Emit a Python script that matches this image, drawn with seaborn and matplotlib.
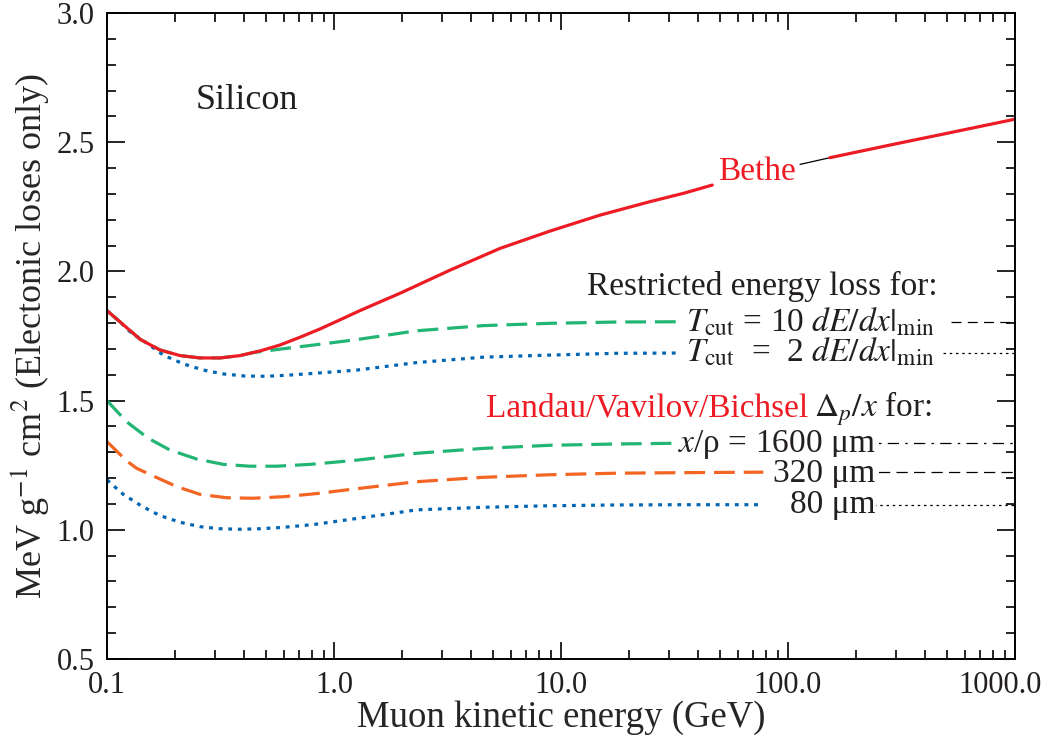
import numpy as np
import pandas as pd
import matplotlib
matplotlib.use("Agg")
import matplotlib.pyplot as plt
import matplotlib.transforms as mtransforms
import seaborn as sns
from matplotlib.ticker import FixedLocator, MultipleLocator, LogLocator, NullFormatter

# --- podaci ocitani sa slike (E u GeV, dE/dx u MeV g^-1 cm^2) ---
bethe_E = [0.1, 0.114, 0.14, 0.171, 0.21, 0.257, 0.315, 0.385, 0.472, 0.578, 0.708, 0.867,
           1.06, 1.3, 1.95, 3.25, 5.39, 8.95, 14.9, 24.7, 34.6, 46.4, 113.0, 153.0, 300.0,
           500.0, 1000.0]
bethe_y = [1.848, 1.805, 1.737, 1.696, 1.674, 1.665, 1.665, 1.674, 1.692, 1.715, 1.745, 1.777,
           1.812, 1.848, 1.915, 2.005, 2.089, 2.156, 2.218, 2.270, 2.302, 2.334, 2.414, 2.440,
           2.494, 2.534, 2.589]

cut10_E = [0.1, 0.114, 0.14, 0.171, 0.21, 0.257, 0.315, 0.385, 0.441, 0.578, 0.867, 1.26,
           2.31, 4.54, 8.95, 17.6, 33.4]
cut10_y = [1.848, 1.805, 1.737, 1.696, 1.674, 1.665, 1.665, 1.674, 1.686, 1.699, 1.718, 1.736,
           1.770, 1.790, 1.799, 1.804, 1.805]

cut2_E = [0.1, 0.114, 0.126, 0.15, 0.177, 0.217, 0.266, 0.326, 0.405, 0.505, 0.619, 0.837,
          1.26, 2.31, 4.54, 8.95, 17.6, 32.6]
cut2_y = [1.848, 1.805, 1.767, 1.722, 1.676, 1.642, 1.618, 1.603, 1.595, 1.594, 1.598, 1.606,
          1.618, 1.647, 1.668, 1.676, 1.683, 1.684]

lv1600_E = [0.1, 0.122, 0.152, 0.189, 0.248, 0.326, 0.426, 0.559, 0.782, 1.218, 2.31, 4.54,
            8.95, 17.6, 33.4]
lv1600_y = [1.500, 1.418, 1.354, 1.309, 1.274, 1.253, 1.246, 1.246, 1.253, 1.268, 1.296, 1.315,
            1.327, 1.332, 1.335]

lv320_E = [0.1, 0.122, 0.135, 0.16, 0.203, 0.257, 0.337, 0.441, 0.599, 0.837, 1.26, 2.31,
           4.54, 8.95, 17.6, 34.6, 77.9]
lv320_y = [1.341, 1.267, 1.238, 1.208, 1.167, 1.137, 1.124, 1.122, 1.128, 1.140, 1.159, 1.186,
           1.203, 1.213, 1.219, 1.221, 1.223]

lv80_E = [0.1, 0.118, 0.142, 0.171, 0.21, 0.257, 0.315, 0.385, 0.472, 0.588, 0.81, 1.218,
          2.31, 4.54, 8.95, 17.6, 34.6, 77.9]
lv80_y = [1.193, 1.137, 1.092, 1.055, 1.029, 1.012, 1.004, 1.002, 1.004, 1.009, 1.020, 1.042,
          1.077, 1.087, 1.093, 1.096, 1.097, 1.097]

x_ticks = [0.1, 1.0, 10.0, 100.0, 1000.0]
x_ticklabels = ["0.1", "1.0", "10.0", "100.0", "1000.0"]
y_ticks = [0.5, 1.0, 1.5, 2.0, 2.5, 3.0]
y_ticklabels = ["0.5", "1.0", "1.5", "2.0", "2.5", "3.0"]

red = "#ed1c24"
green = "#22b573"
orange = "#f26522"
blue = "#0066b3"

sns.set_theme(style="ticks")
plt.rcParams["font.family"] = ["Liberation Serif", "DejaVu Serif"]
plt.rcParams["mathtext.fontset"] = "stix"
plt.rcParams["axes.linewidth"] = 1.4
plt.rcParams["text.color"] = "#231f20"

fig = plt.figure(figsize=(10.52, 7.42), dpi=100)
ax = fig.add_axes([0.1017, 0.1119, 0.8631, 0.8706])

bethe = pd.DataFrame({"E": bethe_E, "y": bethe_y})
lw = 2.3
dash = (0, (6.5, 2.8))
dots = (0, (1.2, 1.8))

# Landau/Vavilov/Bichsel
sns.lineplot(x=lv80_E, y=lv80_y, color=blue, lw=lw, linestyle=dots, ax=ax, sort=False)
sns.lineplot(x=lv320_E, y=lv320_y, color=orange, lw=lw, linestyle=dash, ax=ax, sort=False)
sns.lineplot(x=lv1600_E, y=lv1600_y, color=green, lw=lw, linestyle=dash, ax=ax, sort=False)
# restricted
sns.lineplot(x=cut2_E, y=cut2_y, color=blue, lw=lw, linestyle=dots, ax=ax, sort=False)
sns.lineplot(x=cut10_E, y=cut10_y, color=green, lw=lw, linestyle=dash, ax=ax, sort=False)
# Bethe (prekinuta oko oznake)
seg1 = bethe[bethe.E <= 47]
seg2 = bethe[(bethe.E >= 113) & (bethe.E <= 153)]
seg3 = bethe[bethe.E >= 153]
sns.lineplot(data=seg1, x="E", y="y", color=red, lw=lw, ax=ax, sort=False)
sns.lineplot(data=seg2, x="E", y="y", color="black", lw=0.9, ax=ax, sort=False)
sns.lineplot(data=seg3, x="E", y="y", color=red, lw=lw, ax=ax, sort=False)

# crne linije iza oznaka
ax.plot([520, 1000], [cut10_y[-1]] * 2, color="black", lw=0.9, linestyle=(0, (8, 5)))
ax.plot([480, 1000], [cut2_y[-1]] * 2, color="black", lw=0.9, linestyle=(0, (2, 3)))
ax.plot([210, 1000], [lv1600_y[-1]] * 2, color="black", lw=0.9, linestyle=(0, (9, 5, 2, 5)))
ax.plot([210, 1000], [lv320_y[-1]] * 2, color="black", lw=0.9, linestyle=(0, (9, 5)))
ax.plot([210, 1000], [lv80_y[-1]] * 2, color="black", lw=0.9, linestyle=(0, (2, 3)))

ax.set_xscale("log")
ax.set_xlim(0.1, 1000)
ax.set_ylim(0.5, 3.0)
ax.xaxis.set_major_locator(FixedLocator(x_ticks))
ax.set_xticklabels(x_ticklabels)
ax.xaxis.set_minor_locator(LogLocator(base=10, subs=np.arange(2, 10)))
ax.xaxis.set_minor_formatter(NullFormatter())
ax.yaxis.set_major_locator(FixedLocator(y_ticks))
ax.set_yticklabels(y_ticklabels)
ax.yaxis.set_minor_locator(MultipleLocator(0.1))
ax.tick_params(which="both", direction="in", top=True, right=True, color="black",
               labelsize=22, width=1.2, labelcolor="#231f20")
ax.tick_params(axis="x", which="major", length=12, pad=9)
ax.tick_params(axis="y", which="major", length=13, pad=9)
ax.tick_params(which="minor", length=6.5)
for s in ax.spines.values():
    s.set_color("black")

# zadnja oznaka na x osi malo ulevo, kao na originalu
shift = mtransforms.ScaledTranslation(-15 / 100, 0, fig.dpi_scale_trans)
for lab in ax.get_xticklabels():
    if lab.get_text() == "1000.0":
        lab.set_transform(lab.get_transform() + shift)

ax.set_xlabel("Muon kinetic energy (GeV)", fontsize=26.5, labelpad=0)
ax.set_ylabel("MeV g$^{-1}$ cm$^2$ (Electonic loses only)", fontsize=26, labelpad=4)

fs = 24
wb = dict(fc="white", ec="none", pad=1)
ax.text(0.098, 0.865, "Silicon", transform=ax.transAxes, fontsize=26, va="center", ha="left")
ax.text(0.716, 0.754, "Bethe", transform=ax.transAxes, fontsize=fs, va="center", ha="center", color=red)
ax.text(0.915, 0.5635, "Restricted energy loss for:", transform=ax.transAxes, fontsize=fs,
        ha="right", va="baseline")
ax.text(0.912, 0.5067, r"$T_{\rm cut}$ = 10 $dE/dx|_{\rm min}$", transform=ax.transAxes,
        fontsize=fs, ha="right", va="baseline", bbox=wb)
ax.text(0.912, 0.460, r"$T_{\rm cut}$  =  2 $dE/dx|_{\rm min}$", transform=ax.transAxes,
        fontsize=fs, ha="right", va="baseline", bbox=wb)
ax.text(0.772, 0.375, "Landau/Vavilov/Bichsel", transform=ax.transAxes, fontsize=fs,
        ha="right", va="baseline", color=red)
ax.text(0.7786, 0.375, r"$\Delta_p/x$ for:", transform=ax.transAxes, fontsize=fs,
        ha="left", va="baseline")
ax.text(0.846, 0.321, r"$x$/ρ = 1600 μm", transform=ax.transAxes, fontsize=fs,
        ha="right", va="baseline", bbox=wb)
ax.text(0.846, 0.2745, "320 μm", transform=ax.transAxes, fontsize=fs,
        ha="right", va="baseline", bbox=wb)
ax.text(0.846, 0.2255, "80 μm", transform=ax.transAxes, fontsize=fs,
        ha="right", va="baseline", bbox=wb)

fig.savefig("out.png", dpi=100)
